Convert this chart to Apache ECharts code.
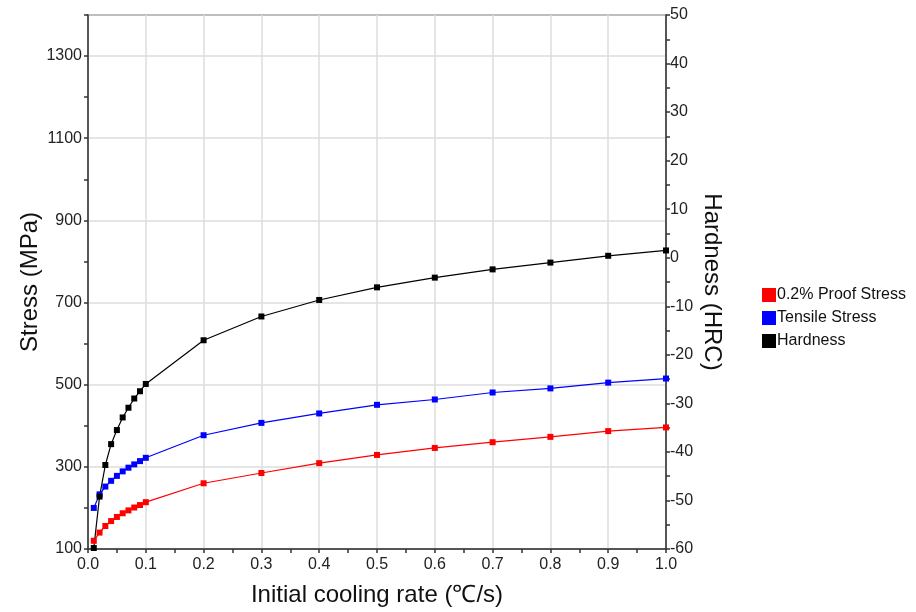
<!DOCTYPE html>
<html>
<head>
<meta charset="utf-8">
<script src="https://cdn.jsdelivr.net/npm/echarts@6/dist/echarts.min.js"></script>
<style>
html,body{margin:0;padding:0;background:#fff;}
#chart{width:916px;height:612px;}
</style>
</head>
<body>
<div id="chart"></div>
<script>
const coolingRate = [0.01,0.02,0.03,0.04,0.05,0.06,0.07,0.08,0.09,0.1,0.2,0.3,0.4,0.5,0.6,0.7,0.8,0.9,1.0];
const proofStress = [120,140,156,168,178,187,194,201,207,214,260,285,309,329,346,360,373,387,396];
const tensileStress = [200,233,252,266,278,289,298,306,314,322,377,407,430,451,464,481,491,505,515];
const hardness = [-59.8,-49.2,-42.7,-38.4,-35.5,-32.9,-30.9,-29.0,-27.5,-26.0,-17.0,-12.1,-8.7,-6.1,-4.1,-2.4,-1.0,0.4,1.5];
const seriesNames = ['0.2% Proof Stress','Tensile Stress','Hardness'];
const seriesColors = ['#ff0000','#0000ff','#000000'];

const pairs = (ys) => coolingRate.map((x,i) => [x, ys[i]]);
const font = 'Liberation Sans, Arial, sans-serif';

const chart = echarts.init(document.getElementById('chart'), null, {renderer:'canvas'});
const axisLine = {show:true, onZero:false, lineStyle:{color:'#333', width:1.5}};
const tick = {show:true, length:4, lineStyle:{color:'#333', width:1.5}};
const minor = {show:true, splitNumber:2, length:4, lineStyle:{color:'#333', width:1.5}};
const option = {
  animation:false,
  backgroundColor:'#fff',
  textStyle:{fontFamily:font},
  grid:{left:88, right:250, top:15, bottom:62, show:true, borderColor:'#333', borderWidth:1.5, backgroundColor:'transparent'},
  legend:{
    orient:'vertical', left:757, top:282, itemWidth:14, itemHeight:14, itemGap:7,
    icon:'rect',
    textStyle:{fontFamily:font, fontSize:16, color:'#111', padding:[0,0,0,-4]},
    data:seriesNames.map((n,i)=>({name:n, itemStyle:{color:seriesColors[i]}}))
  },
  xAxis:{
    type:'value', min:0, max:1, interval:0.1,
    name:'Initial cooling rate (℃/s)', nameLocation:'middle', nameGap:34, nameMoveOverlap:false,
    nameTextStyle:{fontFamily:font, fontSize:24, color:'#111'},
    axisLine:axisLine, axisTick:tick, minorTick:minor,
    axisLabel:{fontFamily:font, fontSize:16, color:'#222', margin:8, formatter:v=>v.toFixed(1)},
    splitLine:{show:true, lineStyle:{color:'#dddddd', width:1.5}}
  },
  yAxis:[{
    type:'value', min:100, max:1400, interval:200, position:'left',
    name:'Stress (MPa)', nameLocation:'middle', nameGap:46, nameMoveOverlap:false,
    nameTextStyle:{fontFamily:font, fontSize:24, color:'#111'},
    axisLine:axisLine, axisTick:tick, minorTick:minor,
    axisLabel:{fontFamily:font, fontSize:16, color:'#222', margin:6, showMaxLabel:false, formatter:v=>String(v)},
    splitLine:{show:true, lineStyle:{color:'#dddddd', width:1.5}}
  },{
    type:'value', min:-60, max:50, interval:10, position:'right',
    name:'Hardness (HRC)', nameLocation:'middle', nameGap:34, nameRotate:-90, nameMoveOverlap:false,
    nameTextStyle:{fontFamily:font, fontSize:24, color:'#111'},
    axisLine:axisLine, axisTick:tick, minorTick:minor,
    axisLabel:{fontFamily:font, fontSize:16, color:'#222', margin:4, formatter:v=>String(v)},
    splitLine:{show:false}
  }],
  series:[
    {name:seriesNames[0], type:'line', yAxisIndex:0, data:pairs(proofStress), symbol:'rect', symbolSize:6, showAllSymbol:true,
     itemStyle:{color:seriesColors[0]}, lineStyle:{color:seriesColors[0], width:1.2}},
    {name:seriesNames[1], type:'line', yAxisIndex:0, data:pairs(tensileStress), symbol:'rect', symbolSize:6, showAllSymbol:true,
     itemStyle:{color:seriesColors[1]}, lineStyle:{color:seriesColors[1], width:1.2}},
    {name:seriesNames[2], type:'line', yAxisIndex:1, data:pairs(hardness), symbol:'rect', symbolSize:6, showAllSymbol:true,
     itemStyle:{color:seriesColors[2]}, lineStyle:{color:seriesColors[2], width:1.2}}
  ]
};
chart.setOption(option);
</script>
</body>
</html>
